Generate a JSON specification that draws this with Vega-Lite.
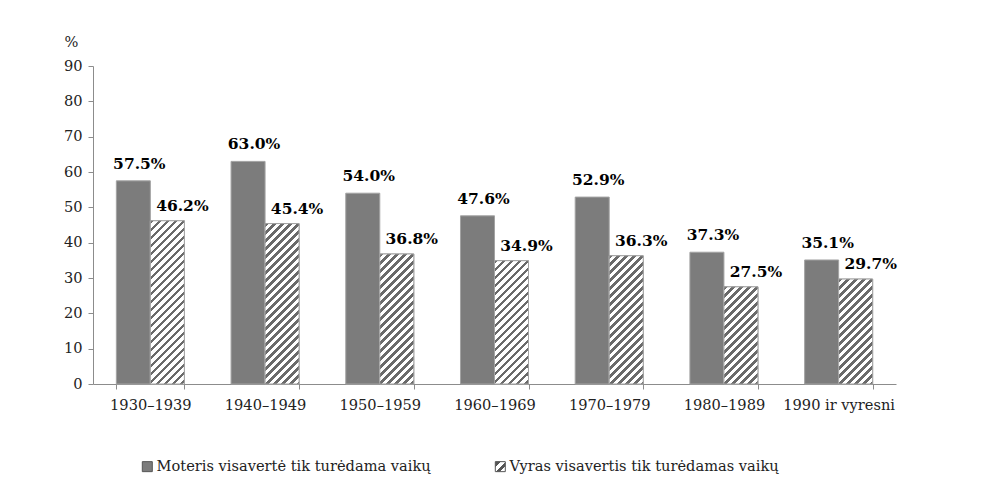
{
  "$schema": "https://vega.github.io/schema/vega-lite/v6.json",
  "width": 803,
  "height": 318,
  "autosize": "none",
  "padding": {"left": 93, "top": 66, "right": 88, "bottom": 107},
  "background": "white",
  "config": {
    "view": {"stroke": null},
    "font": "DejaVu Serif",
    "axis": {"labelFont": "DejaVu Serif", "labelFontSize": 14.6, "labelColor": "#222222", "domainColor": "#8c8c8c", "tickColor": "#8c8c8c", "tickSize": 5, "grid": false, "titleFont": "DejaVu Serif", "titleFontWeight": "normal", "titleFontSize": 14.6, "titleColor": "#222222"},
    "legend": {"labelFont": "DejaVu Serif", "labelFontSize": 14.6, "labelColor": "#222222"}
  },
  "params": [
    {"name": "lgrad", "value": {"gradient": "linear", "x1": 0, "y1": 0, "x2": 1, "y2": 1, "stops": [
      {"offset": 0, "color": "#555555"}, {"offset": 0.3, "color": "#555555"}, {"offset": 0.3, "color": "#ffffff"}, {"offset": 0.55, "color": "#ffffff"},
      {"offset": 0.55, "color": "#555555"}, {"offset": 0.75, "color": "#555555"}, {"offset": 0.75, "color": "#ffffff"}, {"offset": 1, "color": "#ffffff"}]}},
    {"name": "hstops", "value": [
      {"offset":0,"color":"#6a6a6a"},{"offset":0.019,"color":"#6a6a6a"},{"offset":0.019,"color":"#ffffff"},{"offset":0.04,"color":"#ffffff"},
      {"offset":0.04,"color":"#6a6a6a"},{"offset":0.059,"color":"#6a6a6a"},{"offset":0.059,"color":"#ffffff"},{"offset":0.08,"color":"#ffffff"},
      {"offset":0.08,"color":"#6a6a6a"},{"offset":0.099,"color":"#6a6a6a"},{"offset":0.099,"color":"#ffffff"},{"offset":0.12,"color":"#ffffff"},
      {"offset":0.12,"color":"#6a6a6a"},{"offset":0.139,"color":"#6a6a6a"},{"offset":0.139,"color":"#ffffff"},{"offset":0.16,"color":"#ffffff"},
      {"offset":0.16,"color":"#6a6a6a"},{"offset":0.179,"color":"#6a6a6a"},{"offset":0.179,"color":"#ffffff"},{"offset":0.2,"color":"#ffffff"},
      {"offset":0.2,"color":"#6a6a6a"},{"offset":0.219,"color":"#6a6a6a"},{"offset":0.219,"color":"#ffffff"},{"offset":0.24,"color":"#ffffff"},
      {"offset":0.24,"color":"#6a6a6a"},{"offset":0.259,"color":"#6a6a6a"},{"offset":0.259,"color":"#ffffff"},{"offset":0.28,"color":"#ffffff"},
      {"offset":0.28,"color":"#6a6a6a"},{"offset":0.299,"color":"#6a6a6a"},{"offset":0.299,"color":"#ffffff"},{"offset":0.32,"color":"#ffffff"},
      {"offset":0.32,"color":"#6a6a6a"},{"offset":0.339,"color":"#6a6a6a"},{"offset":0.339,"color":"#ffffff"},{"offset":0.36,"color":"#ffffff"},
      {"offset":0.36,"color":"#6a6a6a"},{"offset":0.379,"color":"#6a6a6a"},{"offset":0.379,"color":"#ffffff"},{"offset":0.4,"color":"#ffffff"},
      {"offset":0.4,"color":"#6a6a6a"},{"offset":0.419,"color":"#6a6a6a"},{"offset":0.419,"color":"#ffffff"},{"offset":0.44,"color":"#ffffff"},
      {"offset":0.44,"color":"#6a6a6a"},{"offset":0.459,"color":"#6a6a6a"},{"offset":0.459,"color":"#ffffff"},{"offset":0.48,"color":"#ffffff"},
      {"offset":0.48,"color":"#6a6a6a"},{"offset":0.499,"color":"#6a6a6a"},{"offset":0.499,"color":"#ffffff"},{"offset":0.52,"color":"#ffffff"},
      {"offset":0.52,"color":"#6a6a6a"},{"offset":0.539,"color":"#6a6a6a"},{"offset":0.539,"color":"#ffffff"},{"offset":0.56,"color":"#ffffff"},
      {"offset":0.56,"color":"#6a6a6a"},{"offset":0.579,"color":"#6a6a6a"},{"offset":0.579,"color":"#ffffff"},{"offset":0.6,"color":"#ffffff"},
      {"offset":0.6,"color":"#6a6a6a"},{"offset":0.619,"color":"#6a6a6a"},{"offset":0.619,"color":"#ffffff"},{"offset":0.64,"color":"#ffffff"},
      {"offset":0.64,"color":"#6a6a6a"},{"offset":0.659,"color":"#6a6a6a"},{"offset":0.659,"color":"#ffffff"},{"offset":0.68,"color":"#ffffff"},
      {"offset":0.68,"color":"#6a6a6a"},{"offset":0.699,"color":"#6a6a6a"},{"offset":0.699,"color":"#ffffff"},{"offset":0.72,"color":"#ffffff"},
      {"offset":0.72,"color":"#6a6a6a"},{"offset":0.739,"color":"#6a6a6a"},{"offset":0.739,"color":"#ffffff"},{"offset":0.76,"color":"#ffffff"},
      {"offset":0.76,"color":"#6a6a6a"},{"offset":0.779,"color":"#6a6a6a"},{"offset":0.779,"color":"#ffffff"},{"offset":0.8,"color":"#ffffff"},
      {"offset":0.8,"color":"#6a6a6a"},{"offset":0.819,"color":"#6a6a6a"},{"offset":0.819,"color":"#ffffff"},{"offset":0.84,"color":"#ffffff"},
      {"offset":0.84,"color":"#6a6a6a"},{"offset":0.859,"color":"#6a6a6a"},{"offset":0.859,"color":"#ffffff"},{"offset":0.88,"color":"#ffffff"},
      {"offset":0.88,"color":"#6a6a6a"},{"offset":0.899,"color":"#6a6a6a"},{"offset":0.899,"color":"#ffffff"},{"offset":0.92,"color":"#ffffff"},
      {"offset":0.92,"color":"#6a6a6a"},{"offset":0.939,"color":"#6a6a6a"},{"offset":0.939,"color":"#ffffff"},{"offset":0.96,"color":"#ffffff"},
      {"offset":0.96,"color":"#6a6a6a"},{"offset":0.979,"color":"#6a6a6a"},{"offset":0.979,"color":"#ffffff"},{"offset":1,"color":"#ffffff"}
    ]}
  ],
  "data": {"values": [
    {"d": "1930–1939", "s": "Moteris visavertė tik turėdama vaikų", "v": 57.5, "lbl": "57.5%"},
    {"d": "1930–1939", "s": "Vyras visavertis tik turėdamas vaikų", "v": 46.2, "lbl": "46.2%"},
    {"d": "1940–1949", "s": "Moteris visavertė tik turėdama vaikų", "v": 63.0, "lbl": "63.0%"},
    {"d": "1940–1949", "s": "Vyras visavertis tik turėdamas vaikų", "v": 45.4, "lbl": "45.4%"},
    {"d": "1950–1959", "s": "Moteris visavertė tik turėdama vaikų", "v": 54.0, "lbl": "54.0%"},
    {"d": "1950–1959", "s": "Vyras visavertis tik turėdamas vaikų", "v": 36.8, "lbl": "36.8%"},
    {"d": "1960–1969", "s": "Moteris visavertė tik turėdama vaikų", "v": 47.6, "lbl": "47.6%"},
    {"d": "1960–1969", "s": "Vyras visavertis tik turėdamas vaikų", "v": 34.9, "lbl": "34.9%"},
    {"d": "1970–1979", "s": "Moteris visavertė tik turėdama vaikų", "v": 52.9, "lbl": "52.9%"},
    {"d": "1970–1979", "s": "Vyras visavertis tik turėdamas vaikų", "v": 36.3, "lbl": "36.3%"},
    {"d": "1980–1989", "s": "Moteris visavertė tik turėdama vaikų", "v": 37.3, "lbl": "37.3%"},
    {"d": "1980–1989", "s": "Vyras visavertis tik turėdamas vaikų", "v": 27.5, "lbl": "27.5%"},
    {"d": "1990 ir vyresni", "s": "Moteris visavertė tik turėdama vaikų", "v": 35.1, "lbl": "35.1%"},
    {"d": "1990 ir vyresni", "s": "Vyras visavertis tik turėdamas vaikų", "v": 29.7, "lbl": "29.7%"}
  ]},
  "encoding": {
    "x": {"field": "d", "type": "nominal", "sort": null,
      "scale": {"paddingInner": 0.407, "paddingOuter": 0.2035},
      "axis": {"title": null, "labelAngle": 0, "tickBand": "extent", "labelPadding": 8}},
    "xOffset": {"field": "s", "type": "nominal", "sort": null,
      "scale": {"domain": ["Moteris visavertė tik turėdama vaikų", "Vyras visavertis tik turėdamas vaikų"], "paddingInner": 0, "paddingOuter": 0}},
    "y": {"field": "v", "type": "quantitative",
      "scale": {"domain": [0, 90], "nice": false},
      "axis": {"values": [0,10,20,30,40,50,60,70,80,90], "title": "%", "titleAngle": 0, "titleAlign": "center", "titleBaseline": "middle", "titleX": -22, "titleY": -24, "labelPadding": 6}}
  },
  "layer": [
    {
      "mark": {"type": "bar", "stroke": "#a3a3a3", "strokeWidth": 1},
      "encoding": {
        "color": {"field": "s", "type": "nominal", "sort": null,
          "scale": {"domain": ["Moteris visavertė tik turėdama vaikų", "Vyras visavertis tik turėdamas vaikų"],
            "range": ["#7c7c7c", {"expr": "lgrad"}]},
          "legend": {"title": null, "orient": "none", "legendX": 47, "legendY": 393, "direction": "horizontal", "symbolType": "square", "symbolSize": 100, "symbolStrokeColor": "#555555", "symbolStrokeWidth": 1, "labelOffset": 2, "columnPadding": 62, "labelLimit": 400}}
      }
    },
    {
      "transform": [{"filter": "datum.s === 'Vyras visavertis tik turėdamas vaikų'"}],
      "mark": {"type": "bar", "stroke": "#a3a3a3", "strokeWidth": 1},
      "encoding": {
        "fill": {"value": {"expr": "{gradient: 'linear', x1: 0, y1: 0, x2: 200*34/(pow(datum.v*3.5333,2)+1156), y2: 200*datum.v*3.5333/(pow(datum.v*3.5333,2)+1156), stops: hstops}"}}
      }
    },
    {
      "transform": [{"filter": "datum.s === 'Moteris visavertė tik turėdama vaikų'"}],
      "mark": {"type": "text", "font": "DejaVu Serif", "fontWeight": "bold", "fontSize": 15.5, "color": "#000000", "baseline": "alphabetic", "dx": 6, "dy": -12},
      "encoding": {"text": {"field": "lbl"}}
    },
    {
      "transform": [{"filter": "datum.s === 'Vyras visavertis tik turėdamas vaikų'"}],
      "mark": {"type": "text", "font": "DejaVu Serif", "fontWeight": "bold", "fontSize": 15.5, "color": "#000000", "baseline": "alphabetic", "dx": 15, "dy": -10},
      "encoding": {"text": {"field": "lbl"}}
    }
  ]
}
